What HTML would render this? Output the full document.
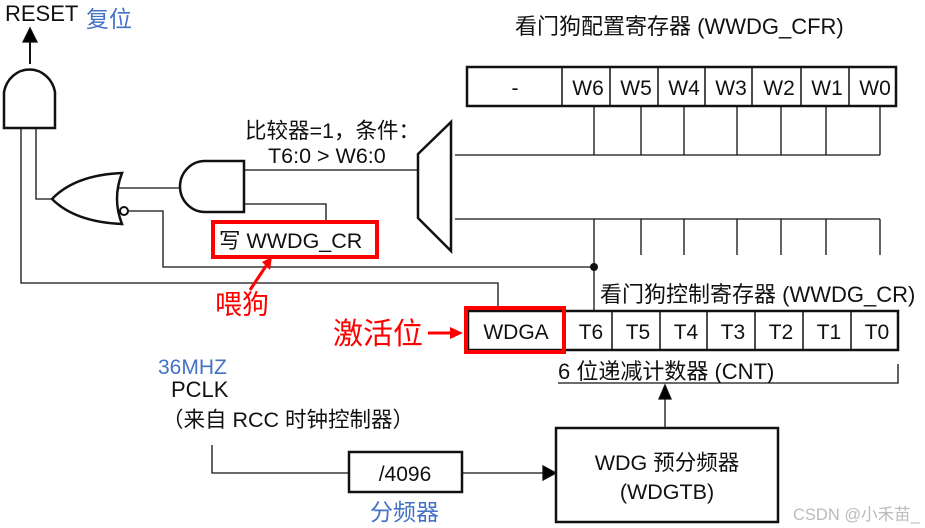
<!DOCTYPE html>
<html><head><meta charset="utf-8"><style>
html,body{margin:0;padding:0;background:#fff}
svg{display:block}
text{font-family:"Liberation Sans","Noto Sans CJK SC",sans-serif;fill:#111}
</style></head><body>
<svg width="925" height="528" viewBox="0 0 925 528" xmlns="http://www.w3.org/2000/svg">
<g stroke="#111" fill="none" stroke-width="1.3">
<path d="M4,128 L4,92 A26,28 0 0 1 55,92 L55,128 Z" stroke-width="2.5"/>
<line x1="30" y1="64" x2="30" y2="32" stroke-width="2"/>
<path d="M23,42 L30,28 L37,42 Z" fill="#000"/>
<polyline points="21,128 21,283 498,283 498,311"/>
<polyline points="36,128 36,199 52,199"/>
<path d="M52,199 Q75,175 122,173 Q112,199 122,224 Q75,222 52,199 Z" stroke-width="2.5"/>
<line x1="118" y1="188" x2="180" y2="188"/>
<circle cx="124" cy="211" r="4" stroke-width="2"/>
<polyline points="128,211 163,211 163,267 594,267"/>
<path d="M244,161 L205,161 A25,25.5 0 0 0 205,212 L244,212 Z" stroke-width="2.5"/>
<line x1="244" y1="170" x2="418" y2="170"/>
<polyline points="244,204 326,204 326,222"/>
<path d="M418,154 L451,122 L451,251 L418,218 Z" stroke-width="2.5"/>
<rect x="467" y="67" width="429" height="39" stroke-width="2.5"/>
<g stroke-width="1.5">
<line x1="562" y1="67" x2="562" y2="106"/><line x1="610" y1="67" x2="610" y2="106"/><line x1="658" y1="67" x2="658" y2="106"/><line x1="705" y1="67" x2="705" y2="106"/><line x1="752" y1="67" x2="752" y2="106"/><line x1="801" y1="67" x2="801" y2="106"/><line x1="849" y1="67" x2="849" y2="106"/>
</g>
<line x1="455" y1="155" x2="880" y2="155"/>
<line x1="594" y1="106" x2="594" y2="155"/><line x1="641" y1="106" x2="641" y2="155"/><line x1="684" y1="106" x2="684" y2="155"/><line x1="737" y1="106" x2="737" y2="155"/><line x1="781" y1="106" x2="781" y2="155"/><line x1="826" y1="106" x2="826" y2="155"/><line x1="880" y1="106" x2="880" y2="155"/>
<line x1="455" y1="219" x2="880" y2="219"/>
<line x1="594" y1="219" x2="594" y2="311"/><line x1="641" y1="219" x2="641" y2="255"/><line x1="684" y1="219" x2="684" y2="255"/><line x1="737" y1="219" x2="737" y2="255"/><line x1="781" y1="219" x2="781" y2="255"/><line x1="826" y1="219" x2="826" y2="255"/><line x1="880" y1="219" x2="880" y2="255"/>
<rect x="468" y="311" width="430" height="39" stroke-width="2.5"/>
<g stroke-width="1.5">
<line x1="612" y1="311" x2="612" y2="350"/><line x1="660" y1="311" x2="660" y2="350"/><line x1="707" y1="311" x2="707" y2="350"/><line x1="755" y1="311" x2="755" y2="350"/><line x1="803" y1="311" x2="803" y2="350"/><line x1="851" y1="311" x2="851" y2="350"/>
</g>
<polyline points="558,383 898,383 898,364"/>
<line x1="665" y1="428" x2="665" y2="397"/>
<path d="M659,399 L665,385 L671,399 Z" fill="#000"/>
<polyline points="212,445 212,473 349,473"/>
<rect x="349" y="452" width="113" height="40" stroke-width="2.5"/>
<line x1="462" y1="473" x2="545" y2="473"/>
<path d="M543,466 L556,473 L543,480 Z" fill="#000"/>
<rect x="556" y="428" width="222" height="94" stroke-width="2.5"/>
</g>
<circle cx="594" cy="267" r="4" fill="#111"/>
<g stroke="#f00" fill="none" stroke-width="4">
<rect x="213" y="222" width="164" height="35"/>
<rect x="466" y="308" width="98" height="44"/>
</g>
<line x1="250" y1="290" x2="266" y2="266" stroke="#f00" stroke-width="3"/>
<path d="M262,262 L272,257 L270,270 Z" fill="#f00"/>
<line x1="428" y1="333" x2="452" y2="333" stroke="#f00" stroke-width="3"/>
<path d="M450,327 L463,333 L450,339 Z" fill="#f00"/>
<text x="5" y="21" font-size="22">RESET</text>
<text x="86" y="27" font-size="23" style="fill:#4472c4">复位</text>
<text x="515" y="34" font-size="22">看门狗配置寄存器 (WWDG_CFR)</text>
<g font-size="21" text-anchor="middle">
<text x="515" y="95">-</text><text x="588" y="95">W6</text><text x="636" y="95">W5</text><text x="684" y="95">W4</text><text x="731" y="95">W3</text><text x="779" y="95">W2</text><text x="827" y="95">W1</text><text x="875" y="95">W0</text>
<text x="516" y="339">WDGA</text><text x="591" y="339">T6</text><text x="638" y="339">T5</text><text x="686" y="339">T4</text><text x="733" y="339">T3</text><text x="781" y="339">T2</text><text x="829" y="339">T1</text><text x="877" y="339">T0</text>
</g>
<text x="245" y="138" font-size="21.5">比较器=1，条件：</text>
<text x="268" y="163" font-size="21.5">T6:0 &gt; W6:0</text>
<text x="219" y="248" font-size="21.5">写 WWDG_CR</text>
<text x="215" y="314" font-size="27" style="fill:#f00">喂狗</text>
<text x="333" y="344" font-size="30" style="fill:#f00">激活位</text>
<text x="600" y="302" font-size="22">看门狗控制寄存器 (WWDG_CR)</text>
<text x="558" y="379" font-size="22">6 位递减计数器 (CNT)</text>
<text x="158" y="374" font-size="21" style="fill:#4472c4">36MHZ</text>
<text x="171" y="397" font-size="22">PCLK</text>
<text x="162" y="427" font-size="21.5">（来自 RCC 时钟控制器）</text>
<text x="405" y="481" font-size="21" text-anchor="middle">/4096</text>
<text x="370" y="520" font-size="23" style="fill:#4472c4">分频器</text>
<text x="667" y="470" font-size="21.5" text-anchor="middle">WDG 预分频器</text>
<text x="667" y="499" font-size="21.5" text-anchor="middle">(WDGTB)</text>
<text x="793" y="520" font-size="16.5" style="fill:#bbb">CSDN @小禾苗_</text>
</svg>
</body></html>
